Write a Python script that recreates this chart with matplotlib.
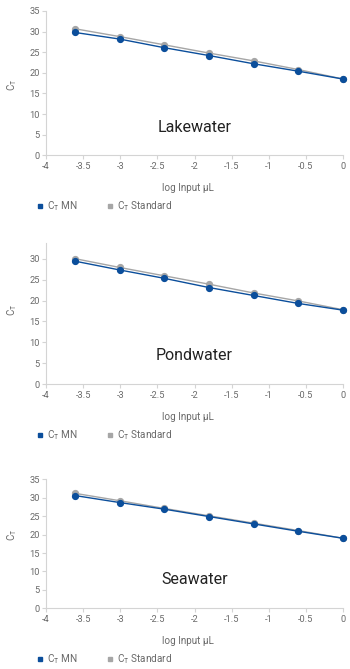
import matplotlib
matplotlib.use("Agg")
import matplotlib.pyplot as plt
from matplotlib.lines import Line2D

plt.rcParams['font.family'] = ['Roboto', 'DejaVu Sans']
plt.rcParams['mathtext.fontset'] = 'custom'
plt.rcParams['mathtext.rm'] = 'Roboto'
plt.rcParams['mathtext.it'] = 'Roboto'

x_log_input = [-3.612, -3.010, -2.408, -1.806, -1.204, -0.602, 0.0]

lake_mn = [29.8, 28.2, 26.1, 24.2, 22.2, 20.4, 18.5]
lake_std = [30.7, 28.8, 26.8, 24.8, 22.9, 20.8, 18.5]

pond_mn = [29.4, 27.3, 25.3, 23.1, 21.2, 19.3, 17.7]
pond_std = [30.0, 27.9, 25.9, 23.9, 21.8, 19.9, 17.8]

sea_mn = [30.6, 28.7, 26.9, 24.9, 22.9, 20.9, 19.0]
sea_std = [31.2, 29.2, 27.1, 25.1, 23.1, 21.1, 19.0]

titles = ["Lakewater", "Pondwater", "Seawater"]
x_ticks = [-4, -3.5, -3, -2.5, -2, -1.5, -1, -0.5, 0]
x_ticklabels = ["-4", "-3.5", "-3", "-2.5", "-2", "-1.5", "-1", "-0.5", "0"]
legend_labels = [r"C$_\mathrm{T}$ MN", r"C$_\mathrm{T}$ Standard"]

BLUE = "#0b4e9b"
GRAY = "#a6a6a6"
SPINE = "#d4d4d4"
TICKC = "#6a6a6a"

W, H = 350, 669
fig = plt.figure(figsize=(W / 100, H / 100), dpi=100)

panels = [
    dict(mn=lake_mn, std=lake_std, bottom=155.3, top=11.0, ymax=35, title_y=127, ylab_y=85,
         yticks=[0, 5, 10, 15, 20, 25, 30, 35]),
    dict(mn=pond_mn, std=pond_std, bottom=384.3, top=242.7, ymax=33.8, title_y=356, ylab_y=310,
         yticks=[0, 5, 10, 15, 20, 25, 30]),
    dict(mn=sea_mn, std=sea_std, bottom=608.3, top=479.3, ymax=35, title_y=579, ylab_y=535,
         yticks=[0, 5, 10, 15, 20, 25, 30, 35]),
]

left_px, right_px = 46.0, 343.0
for i, p in enumerate(panels):
    h_px = p['bottom'] - p['top']
    ax = fig.add_axes([left_px / W, 1 - p['bottom'] / H, (right_px - left_px) / W, h_px / H])
    ax.plot(x_log_input, p['std'], color=GRAY, lw=1.0, marker='o', ms=4.2, mec=GRAY, mfc=GRAY, clip_on=False, zorder=3)
    ax.plot(x_log_input, p['mn'], color=BLUE, lw=1.0, marker='o', ms=4.2, mec=BLUE, mfc=BLUE, clip_on=False, zorder=4)
    ax.set_xlim(-4, 0)
    ax.set_ylim(0, p['ymax'])
    ax.set_xticks(x_ticks)
    ax.set_xticklabels(x_ticklabels)
    ax.set_yticks(p['yticks'])
    for s in ['top', 'right']:
        ax.spines[s].set_visible(False)
    for s in ['left', 'bottom']:
        ax.spines[s].set_color(SPINE)
        ax.spines[s].set_linewidth(0.8)
    ax.tick_params(axis='both', colors=SPINE, labelcolor=TICKC, labelsize=6.7, length=3, width=0.8, pad=1.5)
    ax.set_ylabel(r"C$_\mathrm{T}$", fontsize=7.0, color=TICKC, va='center', ha='center')
    ax.yaxis.set_label_coords(-(left_px - 12) / (right_px - left_px), (p['bottom'] - p['ylab_y']) / h_px)
    ax.set_xlabel(r"log Input µL", fontsize=7.1, color=TICKC, va='center')
    ax.xaxis.set_label_coords(0.478, -32.7 / h_px)
    ax.text(0.50, (p['bottom'] - p['title_y']) / h_px, titles[i],
            transform=ax.transAxes, ha='center', va='center',
            fontsize=11.5, color='#222222')
    handles = [Line2D([], [], ls='none', marker='s', ms=3.0, color=BLUE),
               Line2D([], [], ls='none', marker='s', ms=3.0, color=GRAY)]
    leg_y = 1 - (p['bottom'] + 51) / H
    fig.legend(handles, legend_labels, loc='center left', bbox_to_anchor=(0.108, leg_y),
               ncol=2, frameon=False, fontsize=7.2, handlelength=0.5, handletextpad=0.45,
               columnspacing=3.0, labelcolor=TICKC, borderaxespad=0, borderpad=0)

fig.savefig("out.png", dpi=100)
